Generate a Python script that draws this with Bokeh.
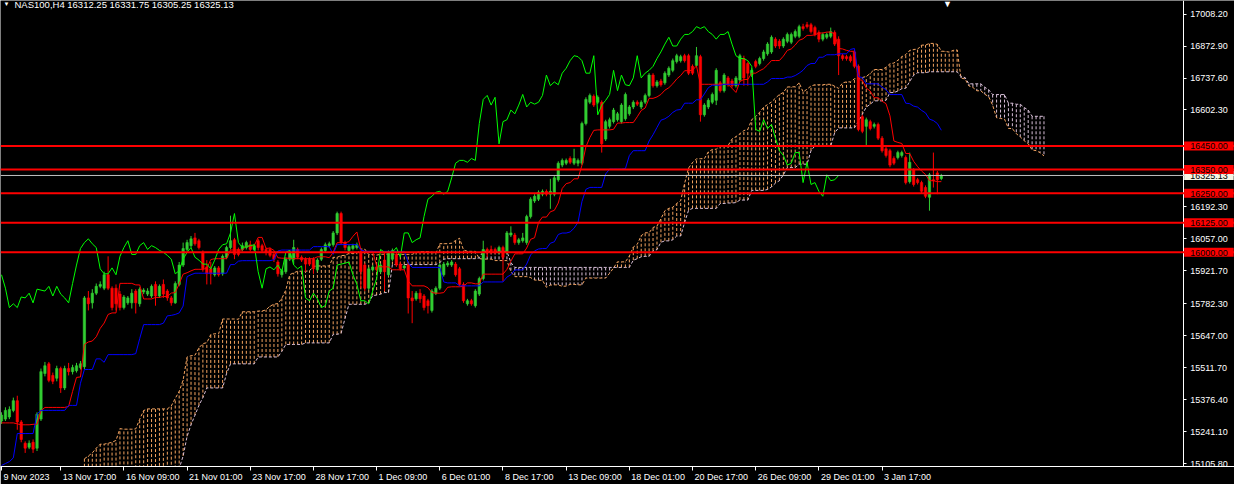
from bokeh.plotting import figure
from bokeh.models import Range1d, FixedTicker, PrintfTickFormatter, Span, Label, ColumnDataSource
from bokeh.embed import file_html
from bokeh.resources import INLINE

# ---------------- data (NAS100, H4) ----------------
opens = [
    15286, 15294, 15303, 15331, 15372, 15282, 15192, 15175, 15196, 15171,
    15294, 15487, 15528, 15479, 15467, 15508, 15426, 15508, 15495, 15499,
    15512, 15516, 15807, 15786, 15827, 15856, 15848, 15905, 15848, 15848,
    15823, 15766, 15786, 15786, 15836, 15782, 15832, 15823, 15815, 15864,
    15815, 15864, 15836, 15807, 15786, 15864, 15946, 16012, 16028, 16061,
    16049, 16000, 15938, 15930, 15905, 15934, 15909, 15979, 16020, 16053,
    16012, 16012, 16020, 16032, 16012, 16049, 16028, 16012, 16012, 15991,
    15959, 15905, 15918, 15971, 15971, 16012, 15979, 15971, 15971, 15971,
    15926, 15971, 16008, 16028, 16032, 16082, 16164, 16041, 16008, 16016,
    16020, 16000, 15946, 15848, 15926, 15938, 15918, 15967, 15905, 15971,
    15991, 15950, 15934, 15946, 15807, 15803, 15827, 15815, 15795, 15754,
    15827, 15848, 15905, 15946, 15946, 15950, 15930, 15864, 15782, 15795,
    15774, 15823, 15889, 16012, 16012, 16012, 16000, 16020, 16000, 16073,
    16073, 16041, 16049, 16041, 16151, 16217, 16225, 16246, 16258, 16246,
    16246, 16307, 16369, 16377, 16397, 16377, 16377, 16377, 16545, 16635,
    16660, 16635, 16635, 16479, 16533, 16553, 16561, 16553, 16565, 16586,
    16615, 16635, 16615, 16635, 16664, 16750, 16705, 16725, 16717, 16750,
    16770, 16807, 16811, 16832, 16832, 16787, 16791, 16828, 16582, 16615,
    16635, 16643, 16717, 16684, 16738, 16725, 16705, 16729, 16820, 16799,
    16750, 16807, 16799, 16820, 16840, 16848, 16902, 16893, 16873, 16893,
    16889, 16914, 16914, 16955, 16963, 16963, 16951, 16930, 16902, 16910,
    16914, 16930, 16902, 16832, 16828, 16828, 16848, 16787, 16574, 16533,
    16553, 16533, 16541, 16483, 16438, 16430, 16397, 16401, 16410, 16401,
    16299, 16348, 16307, 16295, 16274, 16233, 16307, 16336, 16312.25,
]
highs = [
    15323, 15344, 15348, 15385, 15393, 15290, 15200, 15204, 15208, 15323,
    15508, 15536, 15536, 15491, 15520, 15516, 15520, 15532, 15524, 15532,
    15540, 15815, 15836, 15844, 15868, 15877, 15918, 15983, 15856, 15864,
    15836, 15819, 15815, 15844, 15844, 15852, 15848, 15848, 15864, 15877,
    15864, 15885, 15844, 15815, 15877, 15959, 16041, 16053, 16069, 16082,
    16057, 16008, 15967, 15959, 15942, 15942, 15991, 16028, 16155, 16061,
    16020, 16041, 16049, 16049, 16036, 16057, 16036, 16020, 16020, 16000,
    15967, 15930, 15979, 16008, 16053, 16020, 15987, 15979, 15979, 15979,
    15975, 16020, 16041, 16045, 16090, 16172, 16172, 16049, 16032, 16036,
    16041, 16008, 15954, 15938, 15946, 15946, 15954, 16000, 16008, 16016,
    16000, 15959, 15946, 15954, 15836, 15836, 15844, 15823, 15803, 15844,
    15856, 15954, 15959, 15963, 15967, 15959, 15938, 15873, 15803, 15803,
    15844, 15897, 16049, 16020, 16028, 16020, 16028, 16028, 16090, 16110,
    16082, 16061, 16082, 16159, 16233, 16246, 16262, 16266, 16266, 16311,
    16323, 16385, 16397, 16397, 16406, 16438, 16397, 16553, 16656, 16672,
    16668, 16664, 16643, 16561, 16570, 16611, 16594, 16631, 16676, 16623,
    16643, 16643, 16643, 16672, 16758, 16758, 16729, 16734, 16766, 16787,
    16820, 16840, 16836, 16840, 16840, 16795, 16869, 16836, 16631, 16652,
    16676, 16779, 16725, 16758, 16746, 16734, 16746, 16840, 16832, 16807,
    16779, 16815, 16828, 16857, 16889, 16918, 16910, 16902, 16910, 16930,
    16930, 16943, 16963, 16967, 16975, 16971, 16959, 16939, 16930, 16930,
    16951, 16939, 16914, 16840, 16836, 16836, 16857, 16795, 16582, 16570,
    16561, 16549, 16549, 16492, 16447, 16438, 16406, 16430, 16430, 16410,
    16422, 16356, 16315, 16303, 16283, 16336, 16422, 16344, 16331.75,
]
lows = [
    15274, 15286, 15294, 15323, 15249, 15196, 15151, 15167, 15151, 15159,
    15286, 15475, 15450, 15442, 15454, 15405, 15417, 15479, 15483, 15491,
    15504, 15504, 15754, 15762, 15819, 15848, 15840, 15840, 15754, 15754,
    15754, 15758, 15778, 15762, 15741, 15770, 15823, 15815, 15807, 15774,
    15807, 15807, 15795, 15774, 15782, 15856, 15938, 16004, 16020, 16028,
    16012, 15918, 15864, 15864, 15897, 15897, 15901, 15971, 16012, 15971,
    15983, 16004, 16012, 16004, 16004, 16008, 16000, 15987, 15979, 15959,
    15897, 15893, 15909, 15963, 15950, 15971, 15959, 15918, 15942, 15909,
    15918, 15963, 16000, 16020, 16024, 16073, 16032, 16008, 16000, 16008,
    16012, 15848, 15836, 15840, 15918, 15918, 15909, 15836, 15897, 15963,
    15938, 15922, 15926, 15741, 15700, 15795, 15786, 15754, 15741, 15745,
    15819, 15840, 15897, 15938, 15938, 15897, 15856, 15786, 15774, 15774,
    15766, 15815, 15881, 15979, 15991, 15991, 15991, 15877, 15991, 16065,
    16032, 16032, 16041, 16032, 16143, 16209, 16217, 16237, 16237, 16184,
    16237, 16299, 16360, 16369, 16373, 16369, 16364, 16369, 16537, 16627,
    16615, 16627, 16422, 16471, 16524, 16545, 16553, 16545, 16557, 16578,
    16606, 16619, 16606, 16627, 16656, 16697, 16697, 16701, 16709, 16742,
    16762, 16799, 16803, 16803, 16750, 16750, 16783, 16553, 16574, 16606,
    16627, 16623, 16676, 16676, 16701, 16697, 16697, 16721, 16705, 16705,
    16742, 16779, 16791, 16811, 16832, 16840, 16865, 16861, 16865, 16885,
    16881, 16906, 16906, 16938, 16947, 16926, 16914, 16889, 16893, 16902,
    16906, 16873, 16750, 16811, 16811, 16803, 16779, 16512, 16504, 16451,
    16516, 16524, 16475, 16422, 16401, 16360, 16369, 16393, 16401, 16287,
    16291, 16278, 16287, 16250, 16229, 16176, 16274, 16246, 16305.25,
]
closes = [
    15311, 15331, 15335, 15372, 15282, 15208, 15171, 15192, 15167, 15315,
    15495, 15520, 15458, 15454, 15508, 15426, 15508, 15495, 15512, 15520,
    15528, 15807, 15782, 15827, 15856, 15864, 15905, 15848, 15766, 15782,
    15766, 15811, 15807, 15827, 15786, 15844, 15840, 15836, 15856, 15815,
    15856, 15823, 15807, 15786, 15868, 15946, 16016, 16041, 16057, 16036,
    16020, 15930, 15909, 15909, 15934, 15905, 15983, 16020, 16049, 15991,
    15991, 16028, 16041, 16012, 16028, 16020, 16008, 16000, 15987, 15971,
    15909, 15922, 15971, 16000, 16020, 15979, 15967, 15950, 15950, 15930,
    15967, 16012, 16032, 16036, 16082, 16164, 16041, 16020, 16024, 16028,
    16032, 15918, 15848, 15930, 15938, 15926, 15946, 15918, 16000, 16008,
    15946, 15930, 15942, 15807, 15795, 15827, 15803, 15766, 15774, 15836,
    15848, 15946, 15950, 15954, 15959, 15905, 15864, 15795, 15795, 15782,
    15836, 15889, 16012, 16000, 16000, 16000, 16020, 15979, 16082, 16082,
    16041, 16053, 16061, 16151, 16225, 16237, 16254, 16258, 16246, 16258,
    16315, 16377, 16389, 16389, 16381, 16397, 16389, 16545, 16647, 16664,
    16623, 16656, 16459, 16553, 16561, 16602, 16586, 16623, 16668, 16615,
    16635, 16627, 16635, 16664, 16750, 16705, 16721, 16709, 16758, 16779,
    16811, 16832, 16828, 16811, 16758, 16758, 16832, 16582, 16623, 16643,
    16668, 16770, 16684, 16750, 16709, 16705, 16738, 16832, 16738, 16758,
    16770, 16787, 16820, 16848, 16881, 16910, 16873, 16873, 16902, 16922,
    16922, 16934, 16955, 16947, 16955, 16934, 16922, 16902, 16922, 16922,
    16934, 16881, 16832, 16820, 16820, 16811, 16787, 16520, 16512, 16561,
    16524, 16541, 16483, 16430, 16410, 16369, 16377, 16422, 16422, 16295,
    16381, 16287, 16295, 16258, 16237, 16328, 16303, 16307, 16325.13,
]

tenkan_seed = [15278, 15278, 15278, 15278, 15274, 15270, 15270, 15270]
kijun_seed = [15098, 15106, 15114, 15130, 15233, 15233, 15233, 15233, 15233, 15315,
              15331, 15331, 15331, 15331, 15331, 15331, 15331, 15352, 15352, 15352,
              15446, 15504, 15504, 15504, 15549, 15549]
cloud_start = 21
senkou_a_seed = [15126, 15138, 15151, 15171, 15188]
senkou_b_seed = [15050, 15050, 15050, 15050, 15050, 15055, 15055, 15055, 15055, 15060,
                 15060, 15060, 15060, 15065, 15065, 15065, 15070, 15070, 15070, 15075,
                 15075, 15080, 15080, 15085, 15085, 15138, 15221, 15270, 15311, 15352,
                 15385, 15426, 15426, 15426, 15426, 15426, 15487, 15528, 15528, 15528,
                 15528, 15528, 15528, 15528, 15557, 15557, 15557, 15557, 15557, 15557,
                 15581, 15610, 15610, 15610, 15610, 15610]

price_ticks = [17008.2, 16872.9, 16737.6, 16602.3, 16192.3, 16057.0, 15921.7,
               15782.3, 15647.0, 15511.7, 15376.4, 15241.1, 15105.8]
time_ticks = [0, 15, 31, 47, 63, 79, 95, 111, 127, 143, 159, 175, 191, 207, 223]
time_labels = ["9 Nov 2023", "13 Nov 17:00", "16 Nov 09:00", "21 Nov 01:00", "23 Nov 17:00",
               "28 Nov 17:00", "1 Dec 09:00", "6 Dec 01:00", "8 Dec 17:00", "13 Dec 09:00",
               "18 Dec 01:00", "20 Dec 17:00", "26 Dec 09:00", "29 Dec 01:00", "3 Jan 17:00"]
levels = [16450, 16350, 16250, 16125, 16000]
bid = 16325.13
title_text = "NAS100,H4  16312.25 16331.75 16305.25 16325.13"

# ---------------- styles / layout ----------------
BULL = "#32cd32"
BEAR = "#ff0000"
SANDY = "#f4a460"
THISTLE = "#d8bfd8"
FONT = "Liberation Sans"
FS = 9
W, H = 1234, 484
BOTTOM = 15
FH = H - BOTTOM
X0, X1 = -0.25, 312.25      # bar units across the full width
AXIS_X = 299.25             # where the price scale sits
PX_PER_BAR = W / (X1 - X0)

n = len(closes)
idx = list(range(n))


def mid(period, k):
    s = max(0, k - period + 1)
    return (max(highs[s:k + 1]) + min(lows[s:k + 1])) / 2.0


tenkan = [tenkan_seed[k] if k < len(tenkan_seed) else mid(9, k) for k in idx]
kijun = [kijun_seed[k] if k < len(kijun_seed) else mid(26, k) for k in idx]

cj, ca, cb = [], [], []
for j in range(cloud_start, n + 26):
    k = j - 26
    a = senkou_a_seed[j - cloud_start] if k < 0 else (tenkan[k] + kijun[k]) / 2.0
    b = senkou_b_seed[j - cloud_start] if k < 51 else mid(52, k)
    cj.append(j)
    ca.append(a)
    cb.append(b)
ccol = [SANDY if a >= b else THISTLE for a, b in zip(ca, cb)]

chikou_x = list(range(n - 26))
chikou_y = closes[26:]

p = figure(width=W, height=H,
           x_range=Range1d(X0, X1), y_range=Range1d(15093.5, 17065.6),
           output_backend="svg", toolbar_location=None, y_axis_location="right",
           min_border_left=0, min_border_top=0, min_border_right=0, min_border_bottom=BOTTOM,
           background_fill_color="black", border_fill_color="black", outline_line_color=None)
p.grid.visible = False

# cloud
p.segment(x0=cj, y0=cb, x1=cj, y1=ca, line_color=ccol, line_width=1, line_dash="3 2")
p.line(cj, ca, line_color=SANDY, line_width=1, line_dash="3 2")
p.line(cj, cb, line_color=THISTLE, line_width=1, line_dash="3 2")

# candles
col = [BULL if c >= o else BEAR for o, c in zip(opens, closes)]
src = ColumnDataSource(dict(
    x=idx, h=highs, l=lows,
    top=[max(o, c) for o, c in zip(opens, closes)],
    bot=[min(o, c) for o, c in zip(opens, closes)],
    color=col))
p.segment(x0="x", y0="h", x1="x", y1="l", line_color="color", line_width=1, source=src)
p.vbar(x="x", width=0.6, top="top", bottom="bot", fill_color="color",
       line_color="color", line_width=0.6, source=src)

# ichimoku lines
p.line(idx, tenkan, line_color="#ff0000", line_width=1)
p.line(idx, kijun, line_color="#0000ff", line_width=1)
p.line(chikou_x, chikou_y, line_color="#00ff00", line_width=1)

# levels
p.add_layout(Span(location=bid, dimension="width", line_color="#c0c0c0", line_width=1))
for v in levels:
    p.add_layout(Span(location=v, dimension="width", line_color="#ff0000", line_width=2))

# price scale (drawn at a fixed place inside the frame)
ya = p.yaxis[0]
ya.fixed_location = AXIS_X
ya.ticker = FixedTicker(ticks=price_ticks)
ya.formatter = PrintfTickFormatter(format="%.2f")
ya.major_tick_out = 3
ya.major_label_standoff = 4

# time scale: tick marks at the bars, labels start right of them
CW = {'N': 0.722, 'o': 0.556, 'v': 0.5, 'D': 0.722, 'e': 0.556, 'c': 0.5, 'J': 0.5,
      'a': 0.556, 'n': 0.556, ' ': 0.278, ':': 0.278, '.': 0.278}


def text_w(s):
    return sum(CW.get(ch, 0.556) for ch in s) * FS


label_pos = [round(t + (text_w(s) / 2 + 2) / PX_PER_BAR, 3) for t, s in zip(time_ticks, time_labels)]
xa = p.xaxis[0]
xa.ticker = FixedTicker(ticks=label_pos, minor_ticks=time_ticks)
xa.major_label_overrides = {t: s for t, s in zip(label_pos, time_labels)}
xa.major_tick_line_color = None
xa.minor_tick_out = 4
xa.minor_tick_in = 0
xa.major_tick_out = 4
xa.major_label_standoff = 1

for ax in (xa, ya):
    ax.axis_line_color = "white"
    ax.major_tick_in = 0
    ax.major_label_text_color = "white"
    ax.major_label_text_font = FONT
    ax.major_label_text_font_size = "%dpx" % FS
ya.major_tick_line_color = "white"
ya.minor_tick_line_color = None
xa.minor_tick_line_color = "white"

# price boxes on the scale
box_x = AXIS_X + 0.25
p.add_layout(Label(x=box_x, y=bid, text="%.2f" % bid,
                   text_font=FONT, text_font_size="%dpx" % FS, text_color="black",
                   text_align="left", text_baseline="middle",
                   background_fill_color="#f4f4e4",
                   padding=dict(left=6, right=6, top=2, bottom=1)))
for v in levels:
    p.add_layout(Label(x=box_x, y=v, text="%.2f" % v,
                       text_font=FONT, text_font_size="%dpx" % FS, text_color="black",
                       text_align="left", text_baseline="middle",
                       background_fill_color="#ff0000",
                       padding=dict(left=6, right=6, top=2, bottom=1)))

# title and markers
p.add_layout(Label(x=14, y=FH - 1, x_units="screen", y_units="screen", text=title_text,
                   text_font=FONT, text_font_size="9.5px", text_color="white",
                   text_baseline="top", text_align="left"))
p.add_layout(Label(x=3, y=FH - 3, x_units="screen", y_units="screen", text="\u25bc",
                   text_font_size="6px", text_color="white",
                   text_baseline="top", text_align="left"))
p.add_layout(Label(x=947, y=FH - 1, x_units="screen", y_units="screen", text="\u25bc",
                   text_font_size="9px", text_color="white",
                   text_baseline="top", text_align="center"))

open("out.html", "w").write(file_html(p, INLINE))
